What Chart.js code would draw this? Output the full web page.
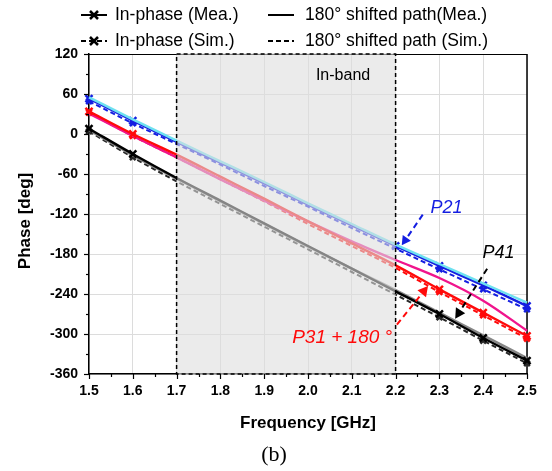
<!DOCTYPE html>
<html>
<head>
<meta charset="utf-8">
<script src="https://cdn.jsdelivr.net/npm/chart.js@4.4.1/dist/chart.umd.min.js"></script>
<style>
html,body{margin:0;padding:0;background:#fff;}
#wrap{position:relative;width:552px;height:471px;}
</style>
</head>
<body>
<div id="wrap"><canvas id="c" width="552" height="471"></canvas></div>
<script>
// ---- data ----
const freq = [1.5, 1.6, 1.7, 1.8, 1.9, 2.0, 2.1, 2.2, 2.3, 2.4, 2.5];
const xTicks = [1.5, 1.6, 1.7, 1.8, 1.9, 2.0, 2.1, 2.2, 2.3, 2.4, 2.5];
const yTicks = [120, 60, 0, -60, -120, -180, -240, -300, -360];

const p21InMea  = [53, 20, -12, -43, -74, -106, -137, -168, -198, -227, -258];
const p21InSim  = [49, 16, -15, -46, -78, -109, -141, -172, -203, -233, -263];
const p21ShMea  = [55, 22, -10, -41, -72, -104, -135, -166, -195, -224, -253];

const p31InMea  = [34, 0, -31, -64, -97, -131, -164, -197, -233, -268, -303];
const p31InSim  = [32, -3, -35, -68, -101, -135, -168, -201, -237, -272, -307];
const p31ShMea  = [31, -3, -35, -68, -100, -131, -161, -189, -216, -250, -295];

const p41InMea  = [8, -30, -66, -100, -134, -168, -202, -236, -270, -306, -340];
const p41InSim  = [4, -35, -71, -105, -139, -173, -207, -241, -275, -310, -344];
const p41ShMea  = [6, -32, -67, -101, -135, -169, -202, -234, -268, -302, -336];

const bandStart = 1.7, bandEnd = 2.2;

const legendLabels = ['In-phase (Mea.)', '180\u00B0 shifted path(Mea.)', 'In-phase (Sim.)', '180\u00B0 shifted path (Sim.)'];

// ---- helpers ----
const pts = arr => arr.map((v, i) => ({x: freq[i], y: v}));
const mk = (show) => freq.map(f => (f < bandStart - 1e-9 || f > bandEnd + 1e-9 || (show && Math.abs(f - bandEnd) < 1e-9)) ? 5 : 0);

const BLUE = 'rgb(20,30,225)', CYAN = 'rgb(110,225,240)';
const RED = 'rgb(255,10,10)', PINK = 'rgb(240,20,140)';
const BLACK = '#000', GREY = 'rgb(135,135,135)';
const FONT = '"Liberation Sans", Arial, sans-serif';

function ds(label, data, color, dashed, radius, width) {
  return {
    label, data: pts(data), borderColor: color, backgroundColor: color,
    borderWidth: width || 2.4, borderDash: dashed ? [5, 3] : [],
    pointStyle: 'crossRot', pointRadius: radius, pointBorderWidth: 2.5,
    pointBorderColor: color, pointHoverRadius: 0, cubicInterpolationMode: 'monotone',
    showLine: true, fill: false, clip: false
  };
}

const datasets = [
  ds('P21 180 Mea', p21ShMea, CYAN, false, 0),
  ds('P21 in-phase Mea', p21InMea, BLUE, false, mk(true)),
  ds('P31 in-phase Mea', p31InMea, RED, false, mk(false)),
  ds('P31 180 Mea', p31ShMea, PINK, false, 0),
  ds('P41 in-phase Mea', p41InMea, BLACK, false, mk(false)),
  ds('P41 180 Mea', p41ShMea, GREY, false, 0),
  ds('P21 in-phase Sim', p21InSim, BLUE, true, mk(false).map(r => r ? 4 : 0), 2),
  ds('P31 in-phase Sim', p31InSim, RED, true, mk(false).map(r => r ? 4 : 0), 2),
  ds('P41 in-phase Sim', p41InSim, 'rgb(40,40,40)', true, mk(false).map(r => r ? 4 : 0), 2),
];

function arrow(ctx, x1, y1, x2, y2, color, head) {
  ctx.save();
  ctx.strokeStyle = color; ctx.fillStyle = color; ctx.lineWidth = 2;
  ctx.setLineDash([6, 4]);
  const ang = Math.atan2(y2 - y1, x2 - x1);
  const hx = x2 - Math.cos(ang) * head, hy = y2 - Math.sin(ang) * head;
  ctx.beginPath(); ctx.moveTo(x1, y1); ctx.lineTo(hx, hy); ctx.stroke();
  ctx.setLineDash([]);
  ctx.beginPath();
  ctx.moveTo(x2, y2);
  ctx.lineTo(hx + Math.sin(ang) * head * 0.55, hy - Math.cos(ang) * head * 0.55);
  ctx.lineTo(hx - Math.sin(ang) * head * 0.55, hy + Math.cos(ang) * head * 0.55);
  ctx.closePath(); ctx.fill();
  ctx.restore();
}

const decor = {
  id: 'decor',
  beforeDatasetsDraw(chart) {
    const {ctx, chartArea: ca} = chart;
    ctx.save();
    ctx.strokeStyle = '#000';
    ctx.lineWidth = 1; ctx.beginPath(); ctx.moveTo(ca.left, ca.top + 0.5); ctx.lineTo(ca.right, ca.top + 0.5); ctx.stroke();
    ctx.lineWidth = 1.5; ctx.beginPath(); ctx.moveTo(ca.right, ca.top); ctx.lineTo(ca.right, ca.bottom); ctx.stroke();
    ctx.restore();
  },
  afterDatasetsDraw(chart) {
    const {ctx, chartArea: ca, scales: {x: xs, y: ys}} = chart;
    const X = v => xs.getPixelForValue(v), Y = v => ys.getPixelForValue(v);
    const x1 = X(bandStart), x2 = X(bandEnd);
    ctx.save();
    // in-band overlay
    ctx.fillStyle = 'rgba(222,222,222,0.6)';
    ctx.fillRect(x1, ca.top - 1, x2 - x1, ca.bottom - ca.top + 2);
    ctx.strokeStyle = '#000'; ctx.lineWidth = 1.5; ctx.setLineDash([4, 3]);
    ctx.strokeRect(x1, ca.top, x2 - x1, ca.bottom - ca.top);
    ctx.setLineDash([]);
    ctx.fillStyle = '#000'; ctx.font = '16px ' + FONT; ctx.textAlign = 'center'; ctx.textBaseline = 'middle';
    ctx.fillText('In-band', X(2.08), Y(87));

    // minor / major ticks
    ctx.strokeStyle = '#000'; ctx.lineWidth = 1.2;
    for (let v = 1.5; v <= 2.5001; v += 0.05) {
      const major = Math.abs(Math.round(v * 10) - v * 10) < 1e-6;
      const px = Math.round(X(v)) + 0.5;
      ctx.beginPath(); ctx.moveTo(px, ca.bottom); ctx.lineTo(px, ca.bottom + (major ? 5 : 3)); ctx.stroke();
    }
    for (let v = -360; v <= 120; v += 30) {
      const major = v % 60 === 0;
      const py = Math.round(Y(v)) + 0.5;
      ctx.beginPath(); ctx.moveTo(ca.left, py); ctx.lineTo(ca.left - (major ? 5 : 3), py); ctx.stroke();
    }

    // annotations
    ctx.font = 'italic 18px ' + FONT;
    ctx.fillStyle = BLUE; ctx.fillText('P21', X(2.316), Y(-111));
    arrow(ctx, X(2.262), Y(-121), X(2.214), Y(-167), BLUE, 9);
    ctx.fillStyle = '#000'; ctx.fillText('P41', X(2.435), Y(-178));
    arrow(ctx, X(2.409), Y(-202), X(2.336), Y(-277), '#000', 10);
    ctx.fillStyle = RED; ctx.font = 'italic 19px ' + FONT;
    ctx.fillText('P31 + 180 \u00B0', X(2.078), Y(-305));
    arrow(ctx, X(2.203), Y(-286), X(2.274), Y(-228), RED, 10);
    ctx.restore();
  },
  afterDraw(chart) {
    const {ctx, chartArea: ca} = chart;
    ctx.save();
    ctx.fillStyle = '#000'; ctx.textBaseline = 'middle';
    // axis titles
    ctx.font = 'bold 17px ' + FONT; ctx.textAlign = 'center';
    ctx.fillText('Frequency [GHz]', (ca.left + ca.right) / 2, 423);
    ctx.save(); ctx.translate(25, 221); ctx.rotate(-Math.PI / 2);
    ctx.fillText('Phase [deg]', 0, 0); ctx.restore();
    ctx.font = '22px "Liberation Serif", "DejaVu Serif", serif';
    ctx.fillText('(b)', 274, 455);

    // legend
    ctx.font = '17.5px ' + FONT; ctx.textAlign = 'left';
    const rows = [15, 41];
    const sym = (x0, x1, y, dashed, marker) => {
      ctx.strokeStyle = '#000'; ctx.lineWidth = 2;
      ctx.setLineDash(dashed ? [5, 3] : []);
      ctx.beginPath(); ctx.moveTo(x0, y); ctx.lineTo(x1, y); ctx.stroke();
      ctx.setLineDash([]);
      if (marker) {
        const cx = (x0 + x1) / 2, r = 4; ctx.lineWidth = 2.5;
        ctx.beginPath(); ctx.moveTo(cx - r, y - r); ctx.lineTo(cx + r, y + r);
        ctx.moveTo(cx + r, y - r); ctx.lineTo(cx - r, y + r); ctx.stroke();
      }
    };
    sym(81, 107, rows[0], false, true); ctx.fillText(legendLabels[0], 115, rows[0]);
    sym(268, 294, rows[0], false, false); ctx.fillText(legendLabels[1], 305, rows[0]);
    sym(81, 107, rows[1], true, true); ctx.fillText(legendLabels[2], 115, rows[1]);
    sym(268, 294, rows[1], true, false); ctx.fillText(legendLabels[3], 305, rows[1]);
    ctx.restore();
  }
};

new Chart(document.getElementById('c'), {
  type: 'scatter',
  data: {datasets},
  options: {
    responsive: false, animation: false, devicePixelRatio: 1,
    layout: {padding: {left: 0, right: 25, top: 54, bottom: 0}},
    plugins: {legend: {display: false}, tooltip: {enabled: false}},
    scales: {
      x: {
        type: 'linear', min: 1.5, max: 2.5,
        afterFit: s => { s.height = 97; },
        afterBuildTicks: s => { s.ticks = xTicks.map(v => ({value: v})); },
        ticks: {font: {family: FONT, size: 14, weight: 'bold'}, color: '#000', padding: 9,
                maxRotation: 0, autoSkip: false, callback: v => Number(v).toFixed(1)},
        grid: {color: '#dcdcdc', lineWidth: 1, drawTicks: false},
        border: {display: true, color: '#000', width: 1.5}
      },
      y: {
        type: 'linear', min: -360, max: 120,
        afterFit: s => { s.width = 89; },
        afterBuildTicks: s => { s.ticks = yTicks.map(v => ({value: v})); },
        ticks: {font: {family: FONT, size: 14, weight: 'bold'}, color: '#000', padding: 11},
        grid: {color: '#dcdcdc', lineWidth: 1, drawTicks: false},
        border: {display: true, color: '#000', width: 1.5}
      }
    }
  },
  plugins: [decor]
});
</script>
</body>
</html>
